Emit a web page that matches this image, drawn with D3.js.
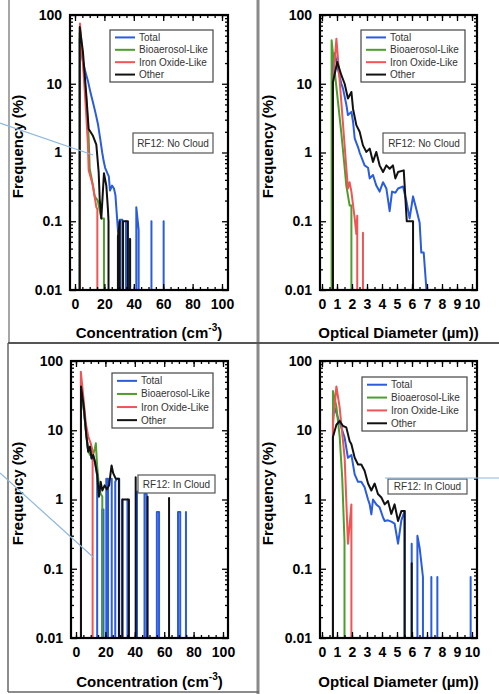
<!DOCTYPE html>
<html>
<head>
<meta charset="utf-8">
<script src="https://cdn.jsdelivr.net/npm/d3@7"></script>
<style>
  body { margin: 0; background: #fff; }
  svg { display: block; font-family: Arial, "Liberation Sans", sans-serif; }
</style>
</head>
<body>
<svg width="499" height="694"></svg>
<script>
// ---- data (a 0 means an empty bin) ----
const seriesNames = ['Total', 'Bioaerosol-Like', 'Iron Oxide-Like', 'Other'];
const yTicks = [0.01, 0.1, 1, 10, 100];
const yTickLabels = ['0.01', '0.1', '1', '10', '100'];
const concTicks = [0, 20, 40, 60, 80, 100];
const diamTicks = [0, 1, 2, 3, 4, 5, 6, 7, 8, 9, 10];

// RF12, no cloud, concentration (cm-3)
const noCloudConcTotal = [[1.5,0],[3.2,45],[5.4,21],[7.0,15],[8.8,11],[10.5,7.5],[12.2,5.4],[13.9,3.8],[15.6,2.6],[17.3,1.5],[18.5,1.0],[19.5,0.75],[20.5,0.6],[22.0,0.5],[23.0,0.45],[23.8,0.28],[25.2,0.33],[26.5,0.3],[27.5,0.24],[28.5,0.12],[29.3,0.07],[30.4,0.105],[32.2,0.105],[33.2,0],[34.7,0.1],[35.6,0],[37.2,0.055],[38.0,0],[41.7,0.16],[43.3,0.075],[44.3,0],[52.0,0.1],[53.0,0],[60.3,0.1],[61.3,0]];
const noCloudConcBio = [[1.5,0],[3.2,55],[5.4,22],[7.7,6],[9.0,2.0],[9.3,1.6],[10.0,0.58],[11.5,0.4],[13.4,0.23],[15.5,0.2],[17.9,0.11],[19.7,0.11],[20.5,0]];
const noCloudConcIron = [[1.5,0],[3.4,75],[5.4,20],[7.5,4],[8.8,1.3],[9.3,0.55],[12.2,0.33],[14.5,0.16],[15.2,0.15],[16.0,0]];
const noCloudConcOther = [[1.5,0],[3.2,67],[5.4,29],[7.7,6.8],[9.3,2.2],[12.2,1.75],[14.5,1.3],[16.1,0.52],[16.8,0.21],[17.9,0.11],[19.7,0.5],[21.3,0.33],[22.4,0.15],[22.8,0.1],[23.5,0],[29.2,0.06],[30.5,0.1],[31.5,0],[32.7,0.1],[36.0,0.1],[36.8,0],[37.5,0.055],[38.2,0]];

// RF12, no cloud, optical diameter (um)
const noCloudDiamTotal = [[0.5,0],[0.73,22],[0.85,28],[1.07,16],[1.29,10],[1.4,8.5],[1.62,5],[1.73,3.5],[1.96,3.9],[2.07,2.8],[2.18,1.6],[2.4,1.2],[2.51,1.0],[2.84,0.65],[3.07,0.6],[3.18,0.42],[3.4,0.47],[3.62,0.33],[3.84,0.27],[4.07,0.37],[4.29,0.3],[4.51,0.14],[4.67,0.27],[4.89,0.26],[5.07,0.3],[5.4,0.32],[5.62,0.2],[5.84,0.11],[6.07,0.23],[6.29,0.15],[6.51,0.095],[6.62,0.035],[6.78,0.035],[6.98,0.009],[7.1,0]];
const noCloudDiamBio = [[0.4,0],[0.64,43],[0.85,15],[1.07,5.3],[1.29,1.9],[1.51,0.6],[1.62,0.33],[1.84,0.17],[1.96,0.17],[2.0,0]];
const noCloudDiamIron = [[0.5,0],[0.73,10],[0.96,45],[1.18,11],[1.4,2.6],[1.62,0.6],[1.73,0.3],[1.84,0.37],[1.96,0.27],[2.18,0.11],[2.29,0.065],[2.35,0.12],[2.4,0],[2.73,0.068],[2.8,0]];
const noCloudDiamOther = [[0.5,0],[0.73,10.6],[1.02,20.7],[1.29,13.3],[1.51,10],[1.73,6.1],[1.96,7.6],[2.07,4.3],[2.29,2.5],[2.51,2.0],[2.73,1.27],[2.96,1.02],[3.18,1.14],[3.4,0.73],[3.62,1.02],[3.84,0.65],[4.07,0.52],[4.29,0.65],[4.51,0.58],[4.73,0.65],[4.89,0.42],[5.07,0.52],[5.45,0.55],[5.65,0.1],[6.07,0.1],[6.1,0]];

// RF12, in cloud, concentration (cm-3)
const inCloudConcTotal = [[2.0,0],[3.4,40],[5.4,19],[7.0,8.5],[8.3,5],[9.5,5.6],[10.6,4],[11.7,4.3],[12.9,3.4],[14.4,2.2],[15.6,0],[17.8,0.72],[18.7,0.72],[19.6,0],[20.6,2.0],[21.8,2.0],[22.9,0],[24.3,2.0],[25.2,0],[26.7,1.8],[27.8,2.0],[29.4,2.0],[30.3,0],[31.6,1.0],[32.5,0],[35.0,1.0],[36.0,0],[41.5,1.3],[42.6,0],[46.6,1.2],[48.1,1.2],[49.0,0],[55.0,0.66],[56.5,0.66],[57.5,0],[69.4,0.66],[70.9,0.66],[72.0,0],[74.8,0.66],[75.7,0]];
const inCloudConcBio = [[2.0,0],[3.4,40],[5.4,19],[7.0,9],[8.3,5],[9.5,4.4],[10.6,5],[11.7,4.5],[12.9,5.5],[13.5,6.5],[14.4,3.0],[15.6,1.6],[16.8,1.2],[17.9,1.1],[19.0,0]];
const inCloudConcIron = [[2.0,0],[3.3,70],[5.0,30],[6.7,12.5],[8.4,8],[10.1,6.4],[11.3,5.0],[12.5,0]];
const inCloudConcOther = [[2.0,0],[3.4,43],[5.4,21],[7.0,8.5],[8.3,4.9],[9.5,5.8],[10.6,3.9],[11.7,4.4],[12.9,3.5],[14.4,2.3],[15.6,1.1],[16.8,1.8],[17.9,1.35],[19.5,1.6],[21.0,1.4],[22.5,1.6],[24.2,3.1],[25.3,2.4],[27.0,2.0],[29.2,2.0],[30.2,0],[31.5,1.0],[36.0,1.0],[37.0,0],[40.6,2.1],[41.5,0],[48.7,1.1],[49.5,0],[63.3,1.05],[64.2,0]];

// RF12, in cloud, optical diameter (um)
const inCloudDiamTotal = [[0.5,0],[0.73,18],[0.85,21],[1.07,15],[1.29,10.9],[1.51,7.8],[1.73,4],[1.96,4.4],[2.18,2.3],[2.4,1.8],[2.62,1.8],[2.84,1.5],[3.07,1.0],[3.18,0.85],[3.29,0.61],[3.4,1.0],[3.62,0.85],[3.84,0.77],[4.07,0.55],[4.18,0.49],[4.4,0.5],[4.62,0.48],[4.84,0.45],[5.07,0.23],[5.29,0.5],[5.51,0.68],[5.6,0],[5.98,0.23],[6.05,0],[6.36,0.3],[6.51,0.2],[6.73,0.076],[6.8,0],[7.29,0.076],[7.35,0],[7.69,0.076],[7.75,0],[9.91,0.076],[9.97,0]];
const inCloudDiamBio = [[0.5,0],[0.73,37],[0.96,22],[1.18,8],[1.35,2],[1.5,0.25],[1.6,0]];
const inCloudDiamIron = [[0.5,0],[0.73,12],[0.96,43],[1.18,21],[1.51,4.0],[1.73,0.23],[1.96,0.85],[2.05,0]];
const inCloudDiamOther = [[0.5,0],[0.73,8],[0.96,12],[1.18,13.6],[1.4,11.5],[1.62,11],[1.84,7],[1.96,6.3],[2.18,4],[2.4,3.2],[2.62,3.2],[2.84,2.6],[3.07,1.7],[3.29,1.35],[3.51,1.7],[3.73,1.2],[3.96,1.07],[4.18,0.85],[4.4,0.95],[4.62,0.62],[4.84,0.85],[5.07,0.49],[5.29,0.68],[5.51,0.68],[5.6,0],[5.98,0.12],[6.05,0]];

// ---- styling / layout ----
const colors = ['#2a5ce0', '#4c9e2c', '#f05454', '#111111'];
const drawOrder = [0, 1, 2, 3];

const panels = [
  { series: [noCloudConcTotal, noCloudConcBio, noCloudConcIron, noCloudConcOther], tag: 'RF12: No Cloud',
    kind: 'conc', frame: [70, 228, 15, 290], legend: [110, 30, 213, 82], tagBox: [133, 133, 213, 153], ylabX: 18, titleY: 338 },
  { series: [noCloudDiamTotal, noCloudDiamBio, noCloudDiamIron, noCloudDiamOther], tag: 'RF12: No Cloud',
    kind: 'diam', frame: [320, 477, 15, 290], legend: [361, 30, 465, 82], tagBox: [383, 133, 465, 153], ylabX: 268, titleY: 338 },
  { series: [inCloudConcTotal, inCloudConcBio, inCloudConcIron, inCloudConcOther], tag: 'RF12: In Cloud',
    kind: 'conc', frame: [71, 228, 361, 638], legend: [112, 373, 213, 428], tagBox: [138, 475, 215, 493], ylabX: 18, titleY: 687 },
  { series: [inCloudDiamTotal, inCloudDiamBio, inCloudDiamIron, inCloudDiamOther], tag: 'RF12: In Cloud',
    kind: 'diam', frame: [320, 477, 361, 638], legend: [362, 377, 467, 431], tagBox: [388, 479, 467, 494], ylabX: 268, titleY: 687 }
];

const svg = d3.select('svg');

// outer figure boxes
const boxes = svg.append('g').attr('fill', 'none');
boxes.append('line').attr('x1', 9).attr('y1', 0).attr('x2', 9).attr('y2', 343).attr('stroke', '#888').attr('stroke-width', 1.5);
boxes.append('line').attr('x1', 8).attr('y1', 343).attr('x2', 8).attr('y2', 692).attr('stroke', '#666').attr('stroke-width', 1.5);
boxes.append('line').attr('x1', 258).attr('y1', 0).attr('x2', 258).attr('y2', 694).attr('stroke', '#8a8a8a').attr('stroke-width', 3);
boxes.append('line').attr('x1', 8).attr('y1', 343).attr('x2', 499).attr('y2', 343).attr('stroke', '#555').attr('stroke-width', 2);
boxes.append('line').attr('x1', 8).attr('y1', 692).attr('x2', 259).attr('y2', 692).attr('stroke', '#666').attr('stroke-width', 1.5);

function minorLog() {
  const out = [];
  [0.01, 0.1, 1, 10].forEach(d => { for (let k = 2; k <= 9; k++) out.push(d * k); });
  return out;
}

function runs(pts, x, y, floorY) {
  // zeros sit at -inf on a log axis: drop vertically to the frame bottom
  const paths = [];
  let cur = [];
  pts.forEach((p, i) => {
    if (p[1] > 0) {
      if (cur.length === 0) cur.push([x(p[0]), floorY + 4]);
      cur.push([x(p[0]), y(p[1])]);
    } else if (cur.length) {
      cur.push([x(pts[i - 1][0]), floorY + 4]);
      paths.push(cur);
      cur = [];
    }
  });
  if (cur.length) paths.push(cur);
  return paths;
}

panels.forEach((p, pi) => {
  const [fx0, fx1, fy0, fy1] = p.frame;
  const g = svg.append('g');

  const x = p.kind === 'conc'
    ? d3.scaleLinear().domain([0, 100]).range([fx0 + 5, fx0 + 152])
    : d3.scaleLinear().domain([0, 10]).range([fx0 + 2, fx0 + 152]);
  const y = d3.scaleLog().domain([0.01, 100]).range([fy1, fy0]);

  const clipId = 'clip' + pi;
  svg.append('clipPath').attr('id', clipId)
    .append('rect').attr('x', fx0).attr('y', fy0).attr('width', fx1 - fx0).attr('height', fy1 - fy0);

  // traces
  const line = d3.line();
  const plot = g.append('g').attr('clip-path', `url(#${clipId})`);
  drawOrder.forEach(si => {
    runs(p.series[si], x, y, fy1).forEach(r => {
      plot.append('path').attr('d', line(r))
        .attr('fill', 'none').attr('stroke', colors[si]).attr('stroke-width', 2)
        .attr('stroke-linejoin', 'round');
    });
  });

  // axes (ticks inward on all four sides)
  const xMajor = p.kind === 'conc' ? concTicks : diamTicks;
  const xMinor = p.kind === 'conc' ? d3.range(0, 101, 5) : d3.range(0, 10.01, 0.5);
  const styleAxis = sel => {
    sel.select('.domain').remove();
    sel.selectAll('line').attr('stroke', '#000').attr('stroke-width', 1.3);
  };
  const fontTick = sel => sel.selectAll('text').attr('font-size', 14).attr('font-weight', 'bold').attr('fill', '#000');

  g.append('g').attr('transform', `translate(0,${fy1})`)
    .call(d3.axisBottom(x).tickValues(xMinor).tickSize(-3).tickFormat(''))
    .call(styleAxis);
  g.append('g').attr('transform', `translate(0,${fy1})`)
    .call(d3.axisBottom(x).tickValues(xMajor).tickSize(-6).tickPadding(9).tickFormat(d3.format('d')))
    .call(styleAxis).call(fontTick);
  g.append('g').attr('transform', `translate(0,${fy0})`)
    .call(d3.axisTop(x).tickValues(xMinor).tickSize(-3).tickFormat(''))
    .call(styleAxis);
  g.append('g').attr('transform', `translate(0,${fy0})`)
    .call(d3.axisTop(x).tickValues(xMajor).tickSize(-6).tickFormat(''))
    .call(styleAxis);

  g.append('g').attr('transform', `translate(${fx0},0)`)
    .call(d3.axisLeft(y).tickValues(minorLog()).tickSize(-3).tickFormat(''))
    .call(styleAxis);
  g.append('g').attr('transform', `translate(${fx0},0)`)
    .call(d3.axisLeft(y).tickValues(yTicks).tickSize(-6).tickPadding(8).tickFormat((d, i) => yTickLabels[i]))
    .call(styleAxis).call(fontTick);
  g.append('g').attr('transform', `translate(${fx1},0)`)
    .call(d3.axisRight(y).tickValues(minorLog()).tickSize(-3).tickFormat(''))
    .call(styleAxis);
  g.append('g').attr('transform', `translate(${fx1},0)`)
    .call(d3.axisRight(y).tickValues(yTicks).tickSize(-6).tickFormat(''))
    .call(styleAxis);

  g.append('rect').attr('x', fx0).attr('y', fy0).attr('width', fx1 - fx0).attr('height', fy1 - fy0)
    .attr('fill', 'none').attr('stroke', '#000').attr('stroke-width', 2.2);

  // legend
  const [lx0, ly0, lx1, ly1] = p.legend;
  const lg = g.append('g');
  lg.append('rect').attr('x', lx0).attr('y', ly0).attr('width', lx1 - lx0).attr('height', ly1 - ly0)
    .attr('fill', '#fff').attr('stroke', '#444').attr('stroke-width', 1.2);
  const step = (ly1 - ly0) / 4.2;
  seriesNames.forEach((name, i) => {
    const yy = ly0 + step * (i + 0.6);
    lg.append('line').attr('x1', lx0 + 5).attr('x2', lx0 + 25).attr('y1', yy).attr('y2', yy)
      .attr('stroke', colors[i]).attr('stroke-width', 2);
    lg.append('text').attr('x', lx0 + 29).attr('y', yy).attr('dy', '0.35em')
      .attr('font-size', 10).attr('fill', '#333').text(name);
  });

  // run tag
  const [tx0, ty0, tx1, ty1] = p.tagBox;
  g.append('rect').attr('x', tx0).attr('y', ty0).attr('width', tx1 - tx0).attr('height', ty1 - ty0)
    .attr('fill', '#fff').attr('stroke', '#555').attr('stroke-width', 1.2);
  g.append('text').attr('x', (tx0 + tx1) / 2).attr('y', (ty0 + ty1) / 2).attr('dy', '0.35em')
    .attr('text-anchor', 'middle').attr('font-size', 10).attr('fill', '#333').text(p.tag);

  // axis titles
  g.append('text')
    .attr('transform', `translate(${p.ylabX},${(fy0 + fy1) / 2 - 6}) rotate(-90)`)
    .attr('text-anchor', 'middle').attr('dy', '0.35em')
    .attr('font-size', 15).attr('font-weight', 'bold').text('Frequency (%)');

  const xt = g.append('text').attr('x', (fx0 + fx1) / 2).attr('y', p.titleY)
    .attr('text-anchor', 'middle').attr('font-size', 15).attr('font-weight', 'bold');
  if (p.kind === 'conc') {
    xt.append('tspan').text('Concentration (cm');
    xt.append('tspan').attr('dy', -7).attr('font-size', 10).text('-3');
    xt.append('tspan').attr('dy', 7).text(')');
  } else {
    xt.text('Optical Diameter (\u00b5m))');
  }
});

// light-blue annotation leader lines crossing into the panels
const leaders = svg.append('g').attr('stroke', '#8db7dc').attr('stroke-width', 1.2).attr('fill', 'none');
leaders.append('line').attr('x1', 0).attr('y1', 123).attr('x2', 93).attr('y2', 155);
leaders.append('line').attr('x1', 0).attr('y1', 473).attr('x2', 93).attr('y2', 557);
leaders.append('line').attr('x1', 385).attr('y1', 478).attr('x2', 499).attr('y2', 478);
</script>
</body>
</html>
